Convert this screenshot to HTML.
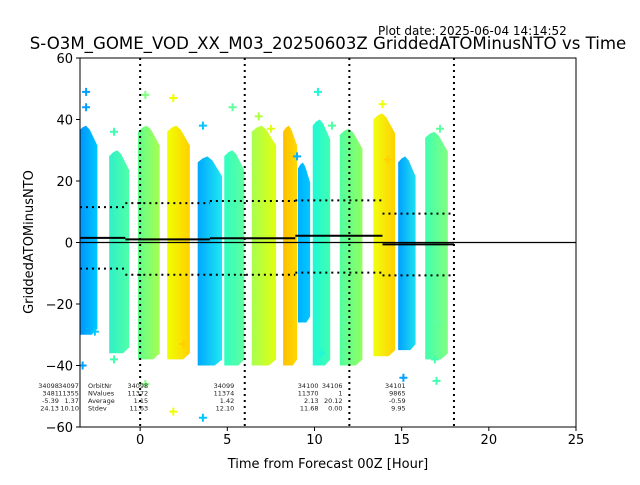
<!DOCTYPE html>
<html><head><meta charset="utf-8"><style>
body{margin:0;background:#fff;font-family:"Liberation Sans","DejaVu Sans",sans-serif}
svg text{font-family:"DejaVu Sans","Liberation Sans",sans-serif}
</style></head><body>
<svg id="chart" width="640" height="480" xmlns="http://www.w3.org/2000/svg">
<text x="378" y="35" font-size="12">Plot date: 2025-06-04 14:14:52</text>
<text x="328" y="49" font-size="16.6" text-anchor="middle">S-O3M_GOME_VOD_XX_M03_20250603Z GriddedATOMinusNTO vs Time</text>
<g id="plot"></g>
<text x="328" y="468" font-size="13" text-anchor="middle">Time from Forecast 00Z [Hour]</text>
<text x="33" y="242" font-size="13" text-anchor="middle" transform="rotate(-90 33 242)">GriddedATOMinusNTO</text>
</svg>
<script>
const xTicks=[0,5,10,15,20,25];
const yTicks=[-60,-40,-20,0,20,40,60];
// strips: center hour, width hour, max, min
const stripX=[-3.0,-1.2,0.5,2.2,4.0,5.4,7.1,8.6,9.4,10.4,12.1,14.0,15.3,17.0];
const stripW=[1.1,1.15,1.25,1.3,1.4,1.15,1.4,0.8,0.7,1.0,1.3,1.25,1.0,1.3];
const stripMax=[38,30,38,38,28,30,38,38,26,40,37,42,28,36];
const stripMin=[-30,-36,-38,-38,-40,-40,-40,-40,-26,-40,-40,-37,-35,-38];
const stripC1=['#0090ff','#30f0c8','#60ff90','#f0ff00','#00a8ff','#30ffc0','#a8ff50','#ffc000','#00b0ff','#20f8d8','#50ffa0','#f0ff10','#00a0ff','#40ffb0'];
const stripC2=['#00c8ff','#50ffa8','#a8ff50','#ffd000','#20e8f0','#60ffa0','#e0ff10','#ffd800','#00c8ff','#40ffb0','#90ff60','#ffd000','#20e0f0','#80ff80'];
const outX=[-3.1,-3.1,-3.3,-2.6,-1.5,-1.5,0.3,0.3,1.9,1.9,2.5,3.6,3.6,5.3,6.8,7.5,9.0,10.2,10.4,11.0,13.9,14.2,15.1,16.9,17.2,17.0,17.0];
const outY=[49,44,-40,-29,36,-38,48,-46,47,-55,-33,38,-57,44,41,37,28,49,-36,38,45,27,-44,-38,37,-45,-26];
const outC=['#00a0ff','#00a0ff','#00a0ff','#00c8ff','#40ffb0','#40ffb0','#80ff80','#80ff80','#f0ff00','#f0ff00','#ffd000','#00c8ff','#00c8ff','#60ffa0','#b0ff40','#e0ff10','#00b0ff','#20f8d8','#20f8d8','#50ffa0','#f0ff10','#ffd000','#00a0ff','#40ffb0','#60ffa0','#40ffb0','#60ffa0'];
const segStart=[-3.45,-0.85,4.0,8.9,13.9];
const segEnd=[-0.85,4.0,8.9,13.9,18.0];
const segMean=[1.5,1.0,1.4,2.2,-0.6];
const segUp=[11.5,12.8,13.5,13.7,9.4];
const segLo=[-8.5,-10.5,-10.5,-9.8,-10.7];
const vLines=[0,6,12,18];
const noteHeader=[-2.99,["OrbitNr","NValues","Average","Stdev"]];
const notes=[[-4.66,["34098","3481","-5.39","24.13"]],[-3.51,["34097","11355","1.37","10.10"]],[0.46,["34098","11372","1.15","11.63"]],[5.40,["34099","11374","1.42","12.10"]],[10.23,["34100","11370","2.13","11.68"]],[11.61,["34106","1","20.12","0.00"]],[15.23,["34101","9865","-0.59","9.95"]]];

const NS='http://www.w3.org/2000/svg';
const L=80,R=576,T=58,B=427,X0=-3.45,X1=25;
const sx=v=>L+(v-X0)/(X1-X0)*(R-L);
const sy=v=>T+(60-v)/120*(B-T);
const g=document.getElementById('plot');
function mk(t,a,p){const e=document.createElementNS(NS,t);for(const k in a)e.setAttribute(k,a[k]);(p||g).appendChild(e);return e;}
const defs=mk('defs',{});
const clip=mk('clipPath',{id:'cp'},defs);mk('rect',{x:L,y:T,width:R-L,height:B-T},clip);
const pg=mk('g',{'clip-path':'url(#cp)'});
stripX.forEach((c,i)=>{
  const gr=mk('linearGradient',{id:'g'+i,x1:0,x2:1,y1:0,y2:0},defs);
  mk('stop',{offset:0,'stop-color':stripC1[i]},gr);mk('stop',{offset:1,'stop-color':stripC2[i]},gr);
  const x0=sx(c-stripW[i]/2),x1=sx(c+stripW[i]/2),w=x1-x0;
  const yt=sy(stripMax[i]),yb=sy(stripMin[i]);
  const d=`M${x0},${yb} L${x0},${yt+6} L${x0+w*0.2},${yt+2} L${x0+w*0.4},${yt} L${x0+w*0.6},${yt+4} L${x0+w*0.8},${yt+12} L${x1},${yt+20} L${x1},${yb-6} L${x0+w*0.7},${yb} Z`;
  const s=mk('path',{d:d,fill:'url(#g'+i+')'},pg);
  
  
});
outX.forEach((x,i)=>{
  const px=sx(x),py=sy(outY[i]);
  const p=mk('path',{d:`M${px-4},${py}H${px+4}M${px},${py-4}V${py+4}`,stroke:outC[i],'stroke-width':2},pg);
  
  
});
mk('line',{x1:L,x2:R,y1:sy(0),y2:sy(0),stroke:'#000','stroke-width':1.2},pg);
segStart.forEach((s,i)=>{
  const a=sx(s),b=sx(segEnd[i]);
  const m=mk('line',{x1:a,x2:b,y1:sy(segMean[i]),y2:sy(segMean[i]),stroke:'#000','stroke-width':2},pg);
  
  
  [segUp[i],segLo[i]].forEach(v=>{
    const d=mk('line',{x1:a,x2:b,y1:sy(v),y2:sy(v),stroke:'#000','stroke-width':2,'stroke-dasharray':'2,4'},pg);
    
    
  });
});
vLines.forEach(v=>{
  const l=mk('line',{x1:sx(v),x2:sx(v),y1:T,y2:B,stroke:'#000','stroke-width':2,'stroke-dasharray':'2,4'},pg);
  
  
});
noteHeader[1].forEach((s,j)=>{
  const t=mk('text',{x:sx(noteHeader[0]),y:388+j*7.5,'font-size':6.5,fill:'#222'});
  t.textContent=s;
  
  
});
notes.forEach(n=>{
  n[1].forEach((s,j)=>{
    const t=mk('text',{x:sx(n[0]),y:388+j*7.5,'font-size':6.5,fill:'#222','text-anchor':'end'});
    t.textContent=s;
    
    
  });
});
mk('rect',{x:L,y:T,width:R-L,height:B-T,fill:'none',stroke:'#000','stroke-width':1});
xTicks.forEach(v=>{
  mk('line',{x1:sx(v),x2:sx(v),y1:B,y2:B+4,stroke:'#000'});
  const t=mk('text',{x:sx(v),y:B+17,'font-size':13,'text-anchor':'middle'});t.textContent=v;
  
  
});
yTicks.forEach(v=>{
  mk('line',{x1:L-4,x2:L,y1:sy(v),y2:sy(v),stroke:'#000'});
  const t=mk('text',{x:L-7,y:sy(v)+5,'font-size':13,'text-anchor':'end'});t.textContent=v<0?'\u2212'+(-v):v;
  
  
});
</script>
</body></html>
